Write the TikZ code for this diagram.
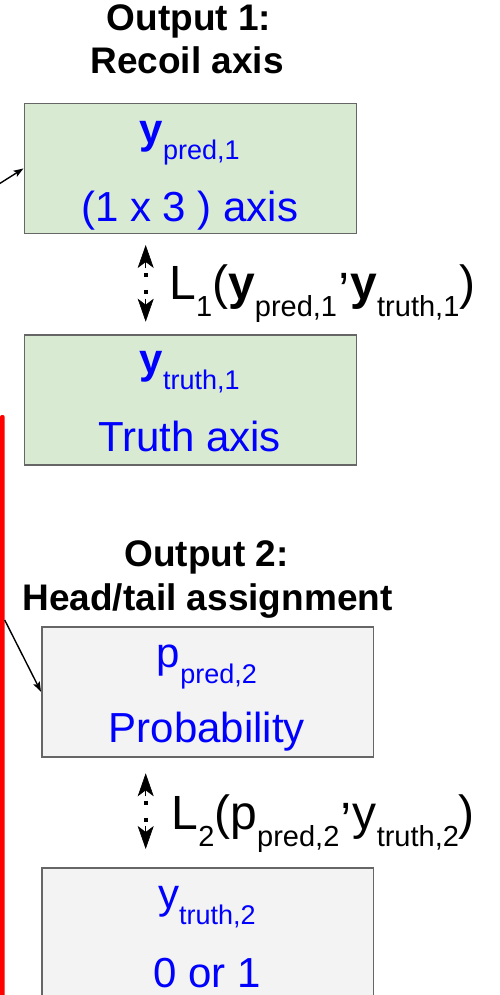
\documentclass[tikz,border=0pt]{standalone}
\usepackage{fontspec}
\setmainfont{Liberation Sans}
\usetikzlibrary{arrows.meta}
\definecolor{boxgreen}{HTML}{D9EAD3}
\definecolor{boxgray}{HTML}{F3F3F3}
\definecolor{edgegray}{HTML}{666666}
\definecolor{txtblue}{HTML}{0000FF}
\newcommand{\bsub}[1]{\raisebox{-16pt}{\fontsize{27}{27}\selectfont #1}}
\newcommand{\lsub}[1]{\raisebox{-17pt}{\fontsize{29}{29}\selectfont #1}}
\newcommand{\rcomma}{\raisebox{21pt}{,}}
\begin{document}
\begin{tikzpicture}[x=1pt,y=-1pt,
  outbox/.style={draw=edgegray, line width=1.5pt, minimum height=130pt, inner sep=0pt, anchor=north west},
  greenbox/.style={outbox, fill=boxgreen, minimum width=332.2pt},
  graybox/.style={outbox, fill=boxgray, minimum width=331.7pt},
  boxtxt/.style={text=txtblue, font=\fontsize{42}{48}\selectfont, inner sep=0pt, anchor=base},
  titletxt/.style={font=\fontsize{37}{44}\selectfont\bfseries, inner sep=0pt, anchor=base},
  losstxt/.style={font=\fontsize{48}{56}\selectfont, inner sep=0pt, anchor=base west},
  feed/.style={-{Stealth[length=10pt,width=7pt,inset=2pt]}, line width=1.4pt},
  lossdots/.style={line width=4pt, dash pattern=on 4pt off 12.7pt},
  losshead/.style={-{Stealth[length=23pt,width=16pt,inset=6pt]}, line width=0.6pt},
]
\useasboundingbox (0,0) rectangle (500,995);

% red bar at the left
\fill[red, rounded corners=2pt] (0,415) rectangle (4.7,1010);

% boxes
\node[greenbox] (pred1) at (23.5,102.7) {};
\node[greenbox] (truth1) at (23.5,334) {};
\node[graybox] (prob2) at (41,626) {};
\node[graybox] (truth2) at (41,867.3) {};

% titles
\node[titletxt] (t1a) at (189,30.7) {Output 1:};
\node[titletxt] (t1b) at (187,74) {Recoil axis};
\node[titletxt] (t2a) at (206.7,566.7) {Output 2:};
\node[titletxt] (t2b) at (207.5,610.7) {Head/tail assignment};

% box texts
\node[boxtxt] (pred1a) at (189.6,143.5) {\textbf{y}\bsub{pred,1}};
\node[boxtxt] (pred1b) at (189.6,221) {(1 x 3 ) axis};
\node[boxtxt] (truth1a) at (189.6,373.5) {\textbf{y}\bsub{truth,1}};
\node[boxtxt] (truth1b) at (189.6,451.7) {Truth axis};
\node[boxtxt] (prob2a) at (206.9,667) {p\bsub{pred,2}};
\node[boxtxt] (prob2b) at (206.9,742.7) {Probability};
\node[boxtxt] (truth2a) at (206.9,908.5) {y\bsub{truth,2}};
\node[boxtxt] (truth2b) at (206.9,987) {0 or 1};

% feeding arrows
\coordinate (src1) at (-10,189.7);
\draw[feed] (src1) -- (pred1.west);
\coordinate (src2) at (4.7,620);
\draw[feed] (src2) -- (prob2.west);

% loss 1
\coordinate (l1top) at (145.7,245);
\coordinate (l1topb) at (145.7,268);
\coordinate (l1bot) at (145.7,321.7);
\coordinate (l1botb) at (145.7,298.7);
\draw[losshead] (l1topb) -- (l1top);
\draw[losshead] (l1botb) -- (l1bot);
\draw[lossdots] (145.7,273) -- (145.7,294);
\node[losstxt] (loss1) at (169.2,299) {L\lsub{1}(\textbf{y}\lsub{pred,1}\rcomma\textbf{y}\lsub{truth,1})};

% loss 2
\coordinate (l2top) at (145.7,773.3);
\coordinate (l2topb) at (145.7,796.3);
\coordinate (l2bot) at (145.7,849);
\coordinate (l2botb) at (145.7,826);
\draw[losshead] (l2topb) -- (l2top);
\draw[losshead] (l2botb) -- (l2bot);
\draw[lossdots] (145.7,800.8) -- (145.7,821.5);
\node[losstxt] (loss2) at (171.5,829) {L\lsub{2}(p\lsub{pred,2}\rcomma y\lsub{truth,2})};
\end{tikzpicture}
\end{document}
